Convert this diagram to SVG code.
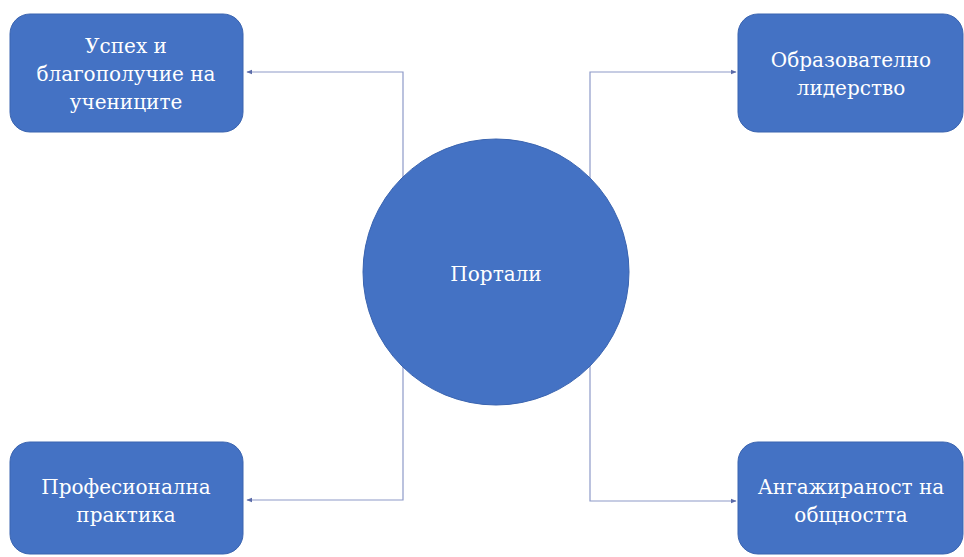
<svg xmlns="http://www.w3.org/2000/svg" width="964" height="557" viewBox="0 0 964 557">
<defs>
<style>
.box{fill:#4472C4;stroke:#3A64B0;stroke-width:1}
.lbl{font-family:'DejaVu Serif','Liberation Serif',serif;font-size:20px;fill:#FFFFFF;text-anchor:middle}
.con{fill:none;stroke:#8E9AC8;stroke-width:1.2}
</style>
<marker id="arr" viewBox="0 0 10 10" refX="9" refY="5" markerWidth="5" markerHeight="5" orient="auto">
<path d="M0,1 L10,5 L0,9 z" fill="#5B6BA8"/>
</marker>
</defs>
<rect width="964" height="557" fill="#FFFFFF"/>
<g id="connectors">
<path class="con" d="M403,200 L403,72 L247,72" marker-end="url(#arr)"/>
<path class="con" d="M403,340 L403,500 L247,500" marker-end="url(#arr)"/>
<path class="con" d="M590,200 L590,72 L736,72" marker-end="url(#arr)"/>
<path class="con" d="M590,340 L590,501 L736,501" marker-end="url(#arr)"/>
</g>
<g id="center">
<circle class="box" cx="496" cy="272" r="133"/>
<text class="lbl" x="496" y="281">Портали</text>
</g>
<g id="node-tl">
<rect class="box" x="10" y="14" width="233" height="118" rx="20"/>
<text class="lbl" x="126" y="53">Успех и</text>
<text class="lbl" x="126" y="81">благополучие на</text>
<text class="lbl" x="126" y="109">учениците</text>
</g>
<g id="node-tr">
<rect class="box" x="738" y="14" width="225" height="118" rx="20"/>
<text class="lbl" x="851" y="67">Образователно</text>
<text class="lbl" x="851" y="95">лидерство</text>
</g>
<g id="node-bl">
<rect class="box" x="10" y="442" width="233" height="112" rx="20"/>
<text class="lbl" x="126" y="494">Професионална</text>
<text class="lbl" x="126" y="522">практика</text>
</g>
<g id="node-br">
<rect class="box" x="738" y="442" width="225" height="112" rx="20"/>
<text class="lbl" x="851" y="494">Ангажираност на</text>
<text class="lbl" x="851" y="522">общността</text>
</g>
</svg>
